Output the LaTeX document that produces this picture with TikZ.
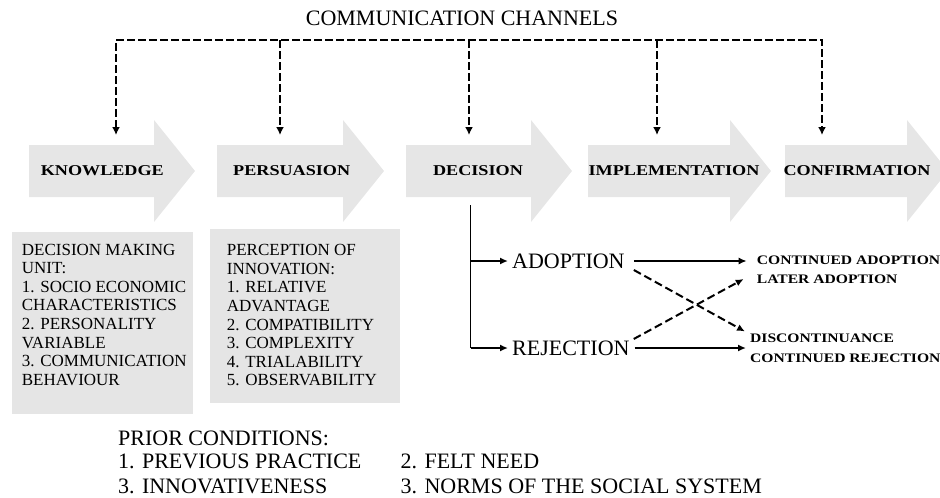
\documentclass[tikz,border=0pt]{standalone}
\usepackage{fontspec}
\setmainfont{Liberation Serif}
\newfontfamily\stagefont[FakeStretch=1.21]{Liberation Serif}
\newfontfamily\outfont[FakeStretch=1.2]{Liberation Serif}
\usetikzlibrary{arrows.meta,calc}
\definecolor{stagegrey}{HTML}{E6E6E6}
\definecolor{boxgrey}{HTML}{E5E5E5}
\begin{document}
\begin{tikzpicture}[x=1pt,y=-1pt,
  titlelbl/.style={font=\fontsize{22}{24}\selectfont, inner sep=0},
  stagelbl/.style={font=\stagefont\bfseries\fontsize{15}{16}\selectfont, inner sep=0},
  infobox/.style={fill=boxgrey, draw=none, inner sep=0, anchor=north west},
  boxtext/.style={font=\fontsize{17}{18.6}\selectfont, align=left, inner sep=0, anchor=north west},
  choice/.style={font=\fontsize{22}{24}\selectfont, inner xsep=4pt, inner ysep=0, anchor=west},
  outlbl/.style={font=\outfont\bfseries\fontsize{13}{14}\selectfont, inner sep=0, anchor=west},
  prior/.style={font=\fontsize{22}{24}\selectfont, inner sep=0, anchor=west},
  chan/.style={line width=2.5pt, dash pattern=on 8pt off 3pt},
  chantip/.tip={Latex[length=8pt,width=8pt]},
  branch/.style={line width=2pt, -{Latex[length=8pt,width=7pt]}},
  outsolid/.style={line width=2.5pt, -{Latex[length=8pt,width=7pt]}},
  outdash/.style={line width=2pt, dash pattern=on 8pt off 4pt, -{Latex[length=8pt,width=7pt]}}
]
\useasboundingbox (0,0) rectangle (940,498);
\clip (0,0) rectangle (940,498);

% stage arrows
\foreach \xa/\xh/\xt in {29/154/195, 217/343/384, 406/531/572, 588/730/771, 785/907/948}{
  \fill[stagegrey] (\xa,145) -- (\xh,145) -- (\xh,120) -- (\xt,171) -- (\xh,222) -- (\xh,197) -- (\xa,197) -- cycle;
}
\node[stagelbl] (know) at (102.3,171) {KNOWLEDGE};
\node[stagelbl] (pers) at (291.7,171) {PERSUASION};
\node[stagelbl] (deci) at (478,171) {DECISION};
\node[stagelbl] (impl) at (674,171) {IMPLEMENTATION};
\node[stagelbl] (conf) at (857,171) {CONFIRMATION};

% communication channels
\node[titlelbl] (cc) at (462,18) {COMMUNICATION CHANNELS};
\coordinate (c1) at (116,40);
\coordinate (c2) at (280,40);
\coordinate (c3) at (469,40);
\coordinate (c4) at (657,40);
\coordinate (c5) at (822,40);
\coordinate (t1) at (116,135);
\coordinate (t2) at (280,135);
\coordinate (t3) at (469,135);
\coordinate (t4) at (657,135);
\coordinate (t5) at (822,135);
\draw[chan, chantip-chantip] (t1) -- (c1) -- (c5) -- (t5);
\draw[chan, -chantip] (c2) -- (t2);
\draw[chan, -chantip] (c3) -- (t3);
\draw[chan, -chantip] (c4) -- (t4);

% info boxes
\node[infobox, minimum width=181pt, minimum height=182.3pt] (box1) at (11.7,231.7) {};
\node[infobox, minimum width=190.7pt, minimum height=174.4pt] (box2) at (209.3,228.3) {};
\node[boxtext] (box1txt) at (21.7,243.7) {DECISION MAKING\\UNIT:\\1. SOCIO ECONOMIC\\CHARACTERISTICS\\2. PERSONALITY\\VARIABLE\\3. COMMUNICATION\\BEHAVIOUR};
\node[boxtext] (box2txt) at (226.7,244.3) {PERCEPTION OF\\INNOVATION:\\1. RELATIVE\\ADVANTAGE\\2. COMPATIBILITY\\3. COMPLEXITY\\4. TRIALABILITY\\5. OBSERVABILITY};

% decision branch
\coordinate (dtop) at (470.7,205);
\coordinate (dado) at (470.7,261);
\coordinate (drej) at (470.7,348);
\node[choice] (ado) at (508,261) {ADOPTION};
\node[choice] (rej) at (508,348) {REJECTION};
\draw[line width=1.3pt] (dtop) -- (drej);
\draw[branch] (dado) -- (ado.west);
\draw[branch] (drej) -- (rej.west);

% outcomes
\node[outlbl] (ca) at (756.7,260) {CONTINUED ADOPTION};
\node[outlbl] (la) at (756.7,279) {LATER ADOPTION};
\node[outlbl] (dis) at (750,338.5) {DISCONTINUANCE};
\node[outlbl] (cr) at (750,358.5) {CONTINUED REJECTION};
\draw[outsolid, shorten >=10pt] ([xshift=5pt]ado.east) -- (ado.east -| ca.west);
\draw[outdash] ($(ado.east)+(5,9)$) -- ($(dis.west)+(-5,-7)$);
\draw[outdash] ($(rej.east)+(0,-9)$) -- ($(la.west)+(-13,0)$);
\draw[outsolid, shorten >=4pt] ([xshift=1pt]rej.east) -- (rej.east -| cr.west);

% prior conditions
\node[prior] (pc) at (118,438.3) {PRIOR CONDITIONS:};
\node[prior] (p1) at (118,461.7) {1. PREVIOUS PRACTICE};
\node[prior] (p3) at (118,486.7) {3. INNOVATIVENESS};
\node[prior] (p2) at (400.5,461.7) {2. FELT NEED};
\node[prior] (p4) at (400.5,486.7) {3. NORMS OF THE SOCIAL SYSTEM};
\end{tikzpicture}
\end{document}
